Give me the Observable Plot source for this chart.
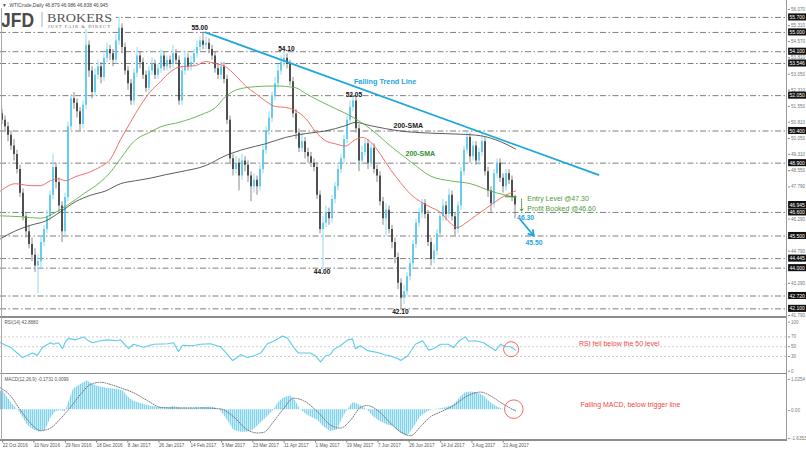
<!DOCTYPE html>
<html><head><meta charset="utf-8">
<script src="https://cdn.jsdelivr.net/npm/d3@7"></script>
<script src="https://cdn.jsdelivr.net/npm/@observablehq/plot@0.6"></script>
<style>
body{margin:0;background:#fff;font-family:"Liberation Sans",Arial,sans-serif}
#wrap{position:relative;width:806px;height:451px;overflow:hidden;background:#fff}
#wrap svg{position:absolute;left:0;display:block}
.ln{position:absolute;background:#8c8c8c;pointer-events:none;z-index:5}
</style></head><body><div id="wrap"></div>
<script>
// ---------------- data ----------------
const open = [51.2,50.9,50.6,50.2,49.7,49.3,48.6,47.5,46.4,45.7,
45.1,44.6,44.1,44.3,45.2,45.8,46.4,47.4,48.7,48.0,
46.9,45.7,47.3,50.6,51.9,51.7,51.3,50.7,51.6,54.4,
53.2,52.2,53.0,53.4,52.9,53.8,54.2,54.0,53.7,54.6,
55.2,54.3,53.2,52.6,51.8,53.1,53.9,53.6,53.0,52.4,
53.2,53.5,53.0,53.3,53.9,53.4,53.7,53.5,54.0,53.7,
51.8,53.2,53.8,53.4,53.6,54.0,54.3,54.6,54.4,54.5,
54.2,53.9,53.3,53.0,53.4,52.8,50.9,49.1,48.6,48.9,
48.3,49.0,48.8,48.3,47.8,48.1,47.8,48.6,49.5,50.4,
51.0,52.0,52.6,53.2,53.6,53.8,53.5,52.7,51.2,50.3,
49.6,49.9,49.4,49.2,48.9,48.7,47.4,45.8,46.1,46.6,
46.3,47.2,47.8,48.6,49.1,50.0,50.9,51.5,51.8,50.5,
49.0,49.4,49.8,48.9,49.6,48.6,48.3,47.1,46.3,46.7,
45.8,45.2,44.5,43.3,42.6,42.9,43.6,44.2,45.1,46.1,
46.6,47.0,46.5,45.2,44.4,44.8,45.6,46.4,46.9,46.5,
47.4,46.4,45.8,46.9,48.5,49.5,50.1,49.2,49.7,49.0,
49.4,49.9,48.5,47.6,47.0,48.4,48.9,48.2,47.8,48.4,
48.1,47.3];
const high = [51.4,51.1,50.8,50.4,50.0,49.5,48.8,47.7,46.6,46.0,
45.4,44.9,44.6,45.5,46.0,46.7,47.6,49.3,48.9,48.2,
47.1,47.5,50.8,52.1,52.2,51.9,51.5,51.8,55.2,54.6,
53.4,53.3,53.7,53.6,54.0,54.5,54.4,54.2,54.9,55.7,
55.4,54.5,53.4,52.8,53.3,54.3,54.1,53.8,53.2,53.4,
53.8,53.7,53.5,54.2,54.1,53.9,53.9,54.4,54.2,53.9,
53.4,54.1,54.0,53.9,54.2,54.6,54.8,55.0,54.8,54.7,
54.4,54.1,53.5,53.6,53.6,53.0,51.1,49.3,49.2,49.1,
49.3,49.2,49.0,48.5,48.4,48.3,48.8,49.7,50.6,51.3,
52.2,52.9,53.5,53.9,54.1,54.0,53.7,52.9,51.4,50.5,
50.3,50.1,49.6,49.4,49.1,48.9,47.6,46.4,46.9,46.8,
47.4,48.0,48.8,49.3,50.2,51.1,51.8,52.05,52.0,50.7,
49.7,50.0,50.0,49.8,49.8,48.8,48.5,47.3,47.0,46.9,
46.0,45.4,44.7,43.5,43.2,43.8,44.4,45.3,46.3,46.8,
47.2,47.2,46.7,45.4,45.1,45.8,46.6,47.2,47.1,47.7,
47.6,46.6,47.1,48.7,49.7,50.4,50.3,49.9,49.9,49.6,
50.3,50.1,48.7,47.8,48.6,49.1,49.1,48.4,48.6,48.6,
48.3,47.4];
const low = [50.7,50.4,49.9,49.5,49.0,48.4,47.3,46.2,45.4,44.9,
44.3,43.8,42.8,44.0,45.0,45.6,46.2,47.2,47.7,46.6,
45.2,45.5,47.1,50.4,51.4,51.0,50.4,50.5,51.4,52.9,
51.9,52.0,52.8,52.6,52.7,53.6,53.7,53.4,53.5,54.4,
54.0,53.0,52.3,51.6,51.6,52.9,53.3,52.8,52.2,52.2,
53.0,52.8,52.8,53.1,53.2,53.2,53.3,53.3,53.5,51.6,
51.6,53.0,53.2,53.2,53.4,53.8,54.1,54.2,54.2,54.0,
53.7,53.1,52.8,52.8,52.6,50.7,48.9,48.3,48.4,47.6,
48.1,48.5,48.0,47.1,47.5,47.4,47.6,48.4,49.3,50.2,
50.8,51.8,52.4,53.0,53.4,53.3,52.5,51.0,50.0,49.4,
49.4,49.1,48.9,48.7,48.5,47.2,45.6,43.95,45.9,46.0,
46.1,47.0,47.6,48.4,48.9,49.8,50.7,51.3,50.3,48.5,
48.8,49.2,48.6,48.7,48.4,48.0,46.9,46.0,45.5,45.6,
44.9,44.2,43.0,42.1,42.3,42.7,43.4,44.0,44.9,45.9,
46.3,46.3,45.0,44.1,44.2,44.6,45.4,46.2,46.2,46.3,
46.2,45.5,45.6,46.7,48.3,49.3,48.9,49.0,48.8,48.8,
49.2,48.3,47.3,46.6,46.8,48.2,48.0,47.5,47.6,47.9,
47.1,46.3];
const close = [50.9,50.6,50.2,49.7,49.3,48.6,47.5,46.4,45.7,45.1,
44.6,44.1,44.3,45.2,45.8,46.4,47.4,48.7,48.0,46.9,
45.7,47.3,50.6,51.9,51.7,51.3,50.7,51.6,54.4,53.2,
52.2,53.0,53.4,52.9,53.8,54.2,54.0,53.7,54.6,55.2,
54.3,53.2,52.6,51.8,53.1,53.9,53.6,53.0,52.4,53.2,
53.5,53.0,53.3,53.9,53.4,53.7,53.5,54.0,53.7,51.8,
53.2,53.8,53.4,53.6,54.0,54.3,54.6,54.4,54.5,54.2,
53.9,53.3,53.0,53.4,52.8,50.9,49.1,48.6,48.9,48.3,
49.0,48.8,48.3,47.8,48.1,47.8,48.6,49.5,50.4,51.0,
52.0,52.6,53.2,53.6,53.8,53.5,52.7,51.2,50.3,49.6,
49.9,49.4,49.2,48.9,48.7,47.4,45.8,46.1,46.6,46.3,
47.2,47.8,48.6,49.1,50.0,50.9,51.5,51.8,50.5,49.0,
49.4,49.8,48.9,49.6,48.6,48.3,47.1,46.3,46.7,45.8,
45.2,44.5,43.3,42.6,42.9,43.6,44.2,45.1,46.1,46.6,
47.0,46.5,45.2,44.4,44.8,45.6,46.4,46.9,46.5,47.4,
46.4,45.8,46.9,48.5,49.5,50.1,49.2,49.7,49.0,49.4,
49.9,48.5,47.6,47.0,48.4,48.9,48.2,47.8,48.4,48.1,
47.3,46.95];

// moving averages (bar index, price)
const sma50Idx = [-0.5,4.5,9.5,12.8,16.2,18.8,21.2,24.5,29.5,32.8,36.2,39.5,42.8,46.2,49.5,52.8,56.2,59.5,64.5,67.8,71.2,74.5,77.8,81.2,84.5,87.8,91.2,94.5,97.8,101.2,104.5,107.8,111.2,114.5,117.8,120.2,122.8,126.2,129.5,132.8,136.2,139.5,142.8,146.2,149.5,151.8,154.5,157.8,161.2,164.5,167.8,171.2];
const sma50Val = [47.6,47.94,47.85,47.85,48.08,48.17,48.08,48.27,48.5,48.73,49.1,50.0,50.8,51.6,52.24,52.7,53.17,53.4,53.45,53.64,53.55,53.4,53.0,52.5,52.15,51.8,51.54,51.5,51.35,50.98,50.37,49.95,49.8,49.7,50.0,50.1,49.9,49.3,48.6,48.0,47.45,47.1,46.85,46.6,46.1,45.9,46.1,46.44,46.77,47.1,47.4,47.6];
const sma100Idx = [-0.5,6.2,12.8,17.8,21.7,27.2,32.8,36.2,39.5,43.8,49.5,52.8,59.5,66.2,71.2,74.5,77.8,81.2,84.5,91.2,97.8,101.2,104.5,111.2,116.2,122.8,129.5,136.2,142.8,149.5,156.2,162.8,171.2];
const sma100Val = [46.44,46.4,46.33,46.6,46.93,47.47,48.02,48.49,49.11,49.89,50.36,50.59,50.82,51.15,51.5,52.0,52.3,52.42,52.47,52.5,52.42,52.15,51.9,51.44,51.1,50.5,49.7,48.97,48.3,48.07,47.94,47.6,47.3];
const sma200Idx = [-0.5,4.5,9.5,14.5,19.5,24.5,29.5,34.5,39.5,44.5,49.5,54.5,59.5,67.8,74.5,81.2,87.8,94.5,101.2,107.8,114.5,117.8,122.8,132.8,142.8,152.8,159.5,166.2,171.2];
const sma200Val = [45.37,45.74,46.0,46.2,46.63,47.1,47.4,47.6,47.94,48.08,48.2,48.36,48.5,48.78,49.25,49.57,49.8,50.1,50.28,50.4,50.65,50.8,50.65,50.4,50.3,50.25,50.18,49.9,49.56];
const trendIdx = [67.8, 198.8];
const trendVal = [55.0, 48.35];

// RSI(14)
const rsiIdx = [-0.5,2.8,6.8,10.2,11.8,13.5,16.2,17.2,18.8,20.2,21.2,22.2,24.5,27.2,28.8,30.2,32.8,35.2,38.5,39.5,42.2,43.8,47.2,50.5,55.2,57.2,58.8,60.2,63.5,66.2,69.5,72.8,75.2,76.8,78.5,79.5,81.8,83.8,86.2,88.5,90.5,93.5,95.2,97.2,98.8,102.8,104.5,106.2,107.8,109.5,110.5,112.8,115.2,116.8,117.8,119.5,121.8,125.2,127.2,129.5,132.2,132.8,135.2,137.8,140.2,142.2,143.8,146.2,148.8,150.5,152.2,154.5,155.5,157.8,160.5,162.8,164.5,166.2,167.8,169.5,171.2];
const rsiVal = [58,49,28,37,32,49,58,55,58,46,61,67,64,70,62,58,62,64,62,64,46,55,49,55,56,58,40,53,52,55,56,50,34,22,28,34,28,31,37,56,61,72,67,49,37,37,31,19,31,34,44,52,64,66,46,52,42,38,34,31,25,22,31,55,62,43,46,55,55,48,61,70,61,62,58,49,42,55,50,50,43];

// MACD(12,26,9)
const macdIdx = [-0.5,0.5,1.8,3.8,5.5,6.8,8.5,10.5,12.8,14.5,16.2,17.8,19.5,21.2,22.2,23.8,26.2,28.5,29.5,31.8,35.2,38.5,40.5,42.2,43.8,46.2,48.5,51.8,55.2,57.2,59.5,63.8,68.5,70.5,72.8,75.2,77.2,79.5,81.8,83.8,86.2,88.5,90.5,92.2,93.8,96.2,97.8,99.5,101.8,105.2,107.2,109.5,111.8,113.8,116.2,117.2,119.5,121.8,123.8,126.2,128.5,130.5,132.8,135.2,137.2,139.5,141.8,143.8,146.2,148.5,150.5,152.8,154.5,156.2,158.5,160.5,162.8,165.2,167.2,169.5,171.2];
const macdVal = [0.61,0.61,0.40,0.14,-0.02,-0.23,-0.5,-0.66,-0.74,-0.66,-0.29,-0.07,-0.02,-0.07,0.24,0.67,0.83,0.95,0.88,0.77,0.70,0.67,0.61,0.40,0.28,0.21,0.14,0.08,0.06,0.11,0.06,0.05,0.08,0.08,-0.02,-0.34,-0.66,-0.74,-0.74,-0.66,-0.44,-0.23,-0.02,0.24,0.38,0.46,0.30,0,-0.18,-0.34,-0.55,-0.71,-0.66,-0.23,0.14,0.24,0.14,0,-0.23,-0.39,-0.5,-0.55,-0.76,-0.87,-0.6,-0.23,-0.07,0,0.03,0.08,0.14,0.4,0.56,0.58,0.56,0.46,0.24,0.08,0.01,0,-0.04];
const signalIdx = [-0.5,2.8,6.2,9.5,12.8,16.2,19.5,22.8,26.2,29.5,32.8,36.2,39.5,43.8,48.5,52.8,57.2,66.2,72.8,77.2,81.8,85.2,87.2,90.5,93.8,97.2,100.5,105.2,109.5,112.8,116.2,119.5,121.8,125.2,129.5,132.8,136.2,139.5,142.8,146.2,150.5,155.2,159.5,162.8,166.2,169.5,171.2];
const signalVal = [0.72,0.46,-0.02,-0.44,-0.68,-0.6,-0.29,0.08,0.51,0.83,0.9,0.83,0.72,0.56,0.3,0.08,0.06,0.06,0.03,-0.23,-0.66,-0.76,-0.74,-0.39,0.03,0.38,0.3,-0.07,-0.5,-0.6,-0.34,0.08,0.14,-0.02,-0.44,-0.72,-0.85,-0.55,-0.23,-0.07,0.14,0.46,0.58,0.46,0.24,0.05,-0.04];

// levels and tick labels
const levels = [55.7,55.0,54.1,53.55,52.05,50.4,48.9,46.6,45.5,44.445,44.0,42.7,42.1];
const levelLabels = ["55.700","55.000","54.100","53.546","52.050","50.400","48.900","46.600","45.500","44.445","44.000","42.720","42.100"];
const lastPrice = 46.945;
const priceTicks = [56.07,55.31,54.57,53.81,53.05,52.31,51.55,50.81,50.05,49.31,48.55,47.79,46.29,44.79,43.29,41.79];
const dateTicks = [-0.1,10.3,20.8,31.2,41.6,52.0,62.5,72.9,83.3,93.7,104.2,114.6,125.0,135.4,145.9,156.3,166.7];
const dateLabels = ["22 Oct 2016","10 Nov 2016","29 Nov 2016","18 Dec 2016","8 Jan 2017","26 Jan 2017","14 Feb 2017","5 Mar 2017","23 Mar 2017","11 Apr 2017","1 May 2017","19 May 2017","7 Jun 2017","26 Jun 2017","14 Jul 2017","3 Aug 2017","21 Aug 2017"];
const rsiTicks = [100,70,50,30,0];
const macdTicks = [1.0254,0,-0.91];
const macdTickLabels = ["1.0254","0.00","-1.6353"];

// annotations
const peakText = ["55.00","54.10","52.05","44.00","42.10"];
const peakIdx = [65.9,94.8,117.3,106.7,132.8];
const peakVal = [55.21,54.23,52.07,43.81,41.94];

// ---------------- build ----------------
const W = 806, XD = [-0.5, 261.83];
const FONT = "Liberation Sans, Arial, sans-serif";
const pts = (ix, v) => ix.map((x, k) => ({x, y: v[k]}));
const bars = close.map((c, i) => ({i, o: open[i], h: high[i], l: low[i], c}));
const up = bars.filter(d => d.c >= d.o), dn = bars.filter(d => d.c < d.o);
const boxes = levels.map((v, k) => ({v, t: levelLabels[k]})).concat([{v: lastPrice, t: "46.945"}]);
const peaks = peakText.map((t, k) => ({x: peakIdx[k], y: peakVal[k], t}));
const base = {width: W, marginLeft: 0, marginRight: 19, style: {fontFamily: FONT, background: "transparent", overflow: "visible"}};

const main = Plot.plot({
  ...base, height: 317, marginTop: 9, marginBottom: 2,
  x: {domain: XD, axis: null, label: null}, y: {domain: [41.79, 56.07], axis: null, label: null},
  marks: [
    Plot.ruleY(levels, {stroke: "#5c5c5c", strokeWidth: 0.8, strokeDasharray: "6,2.5,1.5,2.5"}),
    Plot.ruleX(up, {x: "i", y1: "l", y2: "h", stroke: "#8fdaf1", strokeWidth: 1}),
    Plot.ruleX(dn, {x: "i", y1: "l", y2: "h", stroke: "#8a8a8a", strokeWidth: 1}),
    Plot.ruleX(up, {x: "i", y1: "o", y2: "c", stroke: "#4fc3ea", strokeWidth: 1.6}),
    Plot.ruleX(dn, {x: "i", y1: "o", y2: "c", stroke: "#333", strokeWidth: 1.6}),
    Plot.line(pts(sma200Idx, sma200Val), {x: "x", y: "y", stroke: "#4a4a4a", strokeWidth: 0.9, curve: "monotone-x"}),
    Plot.line(pts(sma100Idx, sma100Val), {x: "x", y: "y", stroke: "#5cae48", strokeWidth: 0.9, curve: "monotone-x"}),
    Plot.line(pts(sma50Idx, sma50Val), {x: "x", y: "y", stroke: "#f0605a", strokeWidth: 0.9, curve: "monotone-x"}),
    Plot.line(pts(trendIdx, trendVal), {x: "x", y: "y", stroke: "#1fa7dd", strokeWidth: 1.8}),
    Plot.line(pts([167.8, 171.4], [47.33, 47.33]), {x: "x", y: "y", stroke: "#2f8a2a", strokeWidth: 1.1}),
    Plot.arrow([{x1: 173.2, y1: 47.22, x2: 173.2, y2: 46.66}], {x1: "x1", y1: "y1", x2: "x2", y2: "y2", stroke: "#3c9a2f", strokeWidth: 1, strokeDasharray: "1,1", headLength: 4}),
    Plot.arrow([{x1: 172.8, y1: 46.26, x2: 177.3, y2: 45.5}], {x1: "x1", y1: "y1", x2: "x2", y2: "y2", stroke: "#1fa7dd", strokeWidth: 1.8, headLength: 5}),
    Plot.text(peaks, {x: "x", y: "y", text: "t", fontSize: 6.6, fontWeight: "bold", fill: "#111"}),
    Plot.text(["Falling Trend Line"], {x: 117.3, y: 52.71, textAnchor: "start", fontSize: 7.3, fontWeight: "bold", fill: "#1ea6dc"}),
    Plot.text(["200-SMA"], {x: 130.5, y: 50.63, textAnchor: "start", fontSize: 7, fontWeight: "bold", fill: "#222"}),
    Plot.text(["200-SMA"], {x: 134.5, y: 49.36, textAnchor: "start", fontSize: 7, fontWeight: "bold", fill: "#2f8f2f"}),
    Plot.text(["Entry Level @47.30"], {x: 175.1, y: 47.22, textAnchor: "start", fontSize: 7, fill: "#4f9a3a"}),
    Plot.text(["Profit Booked @46.60"], {x: 175.1, y: 46.76, textAnchor: "start", fontSize: 7, fill: "#4f9a3a"}),
    Plot.text(["46.30"], {x: 171.7, y: 46.33, textAnchor: "start", fontSize: 6.8, fontWeight: "bold", fill: "#1ea6dc"}),
    Plot.text(["45.50"], {x: 174.5, y: 45.16, textAnchor: "start", fontSize: 6.8, fontWeight: "bold", fill: "#1ea6dc"}),
    Plot.axisY(priceTicks, {anchor: "right", label: null, tickSize: 2, tickPadding: 1.5, tickFormat: d => d.toFixed(3), fontSize: 4.6, fill: "#777", stroke: "#888"}),
    Plot.rect(boxes, {x1: 262.2, x2: 268.7, y1: d => d.v - 0.165, y2: d => d.v + 0.165, fill: "#111"}),
    Plot.text(boxes, {x: 262.5, y: "v", text: "t", textAnchor: "start", fontSize: 5, fill: "#fff"})
  ]
});
main.style.top = "0px";

// logo and header
const g = d3.select(main).append("g").attr("font-family", FONT).attr("text-anchor", "start");
g.append("rect").attr("x", 0).attr("y", 9).attr("width", 116).attr("height", 20).attr("fill", "#fff");
g.append("text").text("JFD").attr("x", 1).attr("y", 27).attr("text-anchor", "start").attr("font-weight", "bold").attr("font-size", 21).attr("fill", "#4a4a4a").attr("textLength", 33).attr("lengthAdjust", "spacingAndGlyphs");
g.append("line").attr("x1", 42).attr("x2", 42).attr("y1", 12).attr("y2", 27).attr("stroke", "#999").attr("stroke-width", 0.8);
g.append("text").text("BROKERS").attr("x", 47).attr("y", 21.5).attr("text-anchor", "start").attr("font-family", "Liberation Serif, DejaVu Serif, serif").attr("font-size", 13).attr("fill", "#555").attr("textLength", 65).attr("lengthAdjust", "spacingAndGlyphs");
g.append("text").text("JUST FAIR & DIRECT").attr("x", 48).attr("y", 27.6).attr("text-anchor", "start").attr("font-family", "Liberation Serif, DejaVu Serif, serif").attr("font-size", 4.6).attr("fill", "#666").attr("textLength", 62).attr("lengthAdjust", "spacing");
g.append("text").text("\u25BC .WTICrude,Daily 46.879 46.986 46.838 46.945").attr("x", 2).attr("y", 6.8).attr("text-anchor", "start").attr("font-size", 5).attr("fill", "#444").attr("textLength", 106).attr("lengthAdjust", "spacingAndGlyphs");

const rsiPlot = Plot.plot({
  ...base, height: 57, marginTop: 4.7, marginBottom: 3.3,
  x: {domain: XD, axis: null, label: null}, y: {domain: [0, 100], axis: null, label: null},
  marks: [
    Plot.ruleY([70, 50, 30], {stroke: "#c4c4c4", strokeWidth: 0.8, strokeDasharray: "2,2"}),
    Plot.line(pts(rsiIdx, rsiVal), {x: "x", y: "y", stroke: "#5ccbeb", strokeWidth: 1.1}),
    Plot.dot([{x: 169.7, y: 44.9}], {x: "x", y: "y", r: 7.5, stroke: "#ec5a5a", strokeWidth: 0.9, fill: "none"}),
    Plot.text(["RSI fell below the 50 level"], {x: 192.3, y: 55.9, textAnchor: "start", fontSize: 7, fill: "#f04848"}),
    Plot.text(["RSI(14) 42.8880"], {frameAnchor: "top-left", dx: 4, dy: -1, fontSize: 4.6, fill: "#555"}),
    Plot.axisY(rsiTicks, {anchor: "right", label: null, tickSize: 2, tickPadding: 1.5, fontSize: 4.6, fill: "#777", stroke: "#888"})
  ]
});
rsiPlot.style.top = "317px";

const macdPlot = Plot.plot({
  ...base, height: 77, marginTop: 4, marginBottom: 11,
  x: {domain: XD, axis: null, label: null}, y: {domain: [-1.0066, 1.0254], axis: null, label: null},
  marks: [
    Plot.areaY(pts(macdIdx, macdVal), {x: "x", y: "y", fill: "url(#macdStripes)"}),
    Plot.line(pts(signalIdx, signalVal), {x: "x", y: "y", stroke: "#6a6a6a", strokeWidth: 0.9, strokeDasharray: "1,1.4", curve: "monotone-x"}),
    Plot.dot([{x: 170.6, y: 0.02}], {x: "x", y: "y", r: 9.3, stroke: "#ec5a5a", strokeWidth: 0.9, fill: "none"}),
    Plot.text(["Falling MACD, below trigger line"], {x: 192.8, y: 0.15, textAnchor: "start", fontSize: 7, fill: "#f04848"}),
    Plot.text(["MACD(12,26,9) -0.1731 0.0099"], {frameAnchor: "top-left", dx: 4, dy: -1, fontSize: 4.6, fill: "#555"}),
    Plot.axisY(macdTicks, {anchor: "right", label: null, tickSize: 2, tickPadding: 1.5, fontSize: 4.6, fill: "#777", stroke: "#888", dy: 0.8, tickFormat: d => macdTickLabels[macdTicks.indexOf(d)]}),
    Plot.axisX(dateTicks, {anchor: "bottom", label: null, tickSize: 2.5, tickPadding: 0.5, fontSize: 4.6, fill: "#555", stroke: "#777", textAnchor: "start", dx: 1, tickFormat: d => dateLabels[dateTicks.indexOf(d)]})
  ]
});
macdPlot.style.top = "374px";
const defs = d3.select(macdPlot).insert("defs", ":first-child");
const pat = defs.append("pattern").attr("id", "macdStripes").attr("patternUnits", "userSpaceOnUse").attr("width", 2).attr("height", 4);
pat.append("rect").attr("width", 2).attr("height", 4).attr("fill", "#d6f1fa");
pat.append("rect").attr("width", 1.1).attr("height", 4).attr("fill", "#7fd3ee");

const wrap = document.getElementById("wrap");
wrap.append(main, rsiPlot, macdPlot);
// panel frame lines
const addLine = (l, t, w, h, c) => { const d = document.createElement("div"); d.className = "ln"; Object.assign(d.style, {left: l + "px", top: t + "px", width: w + "px", height: h + "px"}); if (c) d.style.background = c; wrap.append(d); };
addLine(0, 316.4, 787, 1.8);
addLine(0, 372.6, 787, 1.8);
addLine(0, 439.2, 787, 1.6);
addLine(786.4, 0, 1, 440, "#9a9a9a");
addLine(0.8, 8, 0.9, 432, "#a8a8a8");
</script></body></html>
